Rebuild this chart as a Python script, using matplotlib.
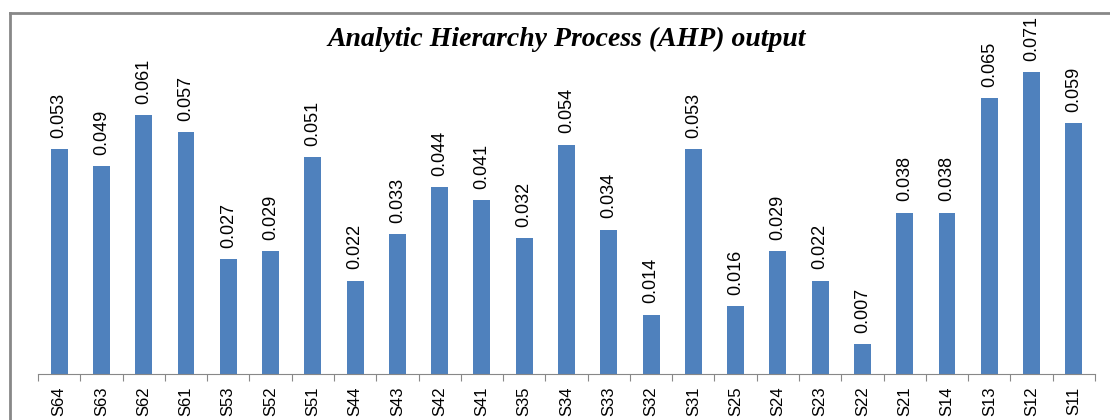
import matplotlib
matplotlib.use("Agg")
import matplotlib.pyplot as plt
from matplotlib.lines import Line2D

categories = ["S64", "S63", "S62", "S61", "S53", "S52", "S51", "S44", "S43", "S42",
              "S41", "S35", "S34", "S33", "S32", "S31", "S25", "S24", "S23", "S22",
              "S21", "S14", "S13", "S12", "S11"]
values = [0.053, 0.049, 0.061, 0.057, 0.027, 0.029, 0.051, 0.022, 0.033, 0.044,
          0.041, 0.032, 0.054, 0.034, 0.014, 0.053, 0.016, 0.029, 0.022, 0.007,
          0.038, 0.038, 0.065, 0.071, 0.059]
title = "Analytic Hierarchy Process (AHP) output"

W, H = 1110, 420
fig = plt.figure(figsize=(W / 100, H / 100), dpi=100)
fig.patch.set_facecolor("white")

font = ["Liberation Sans", "DejaVu Sans"]

ax = fig.add_axes([38 / W, (H - 374) / H, (1095 - 38) / W, (374 - 34) / H])
x = list(range(len(categories)))
ax.bar(x, values, width=0.4, color="#4F81BD", zorder=2)
ax.set_xlim(-0.5, len(categories) - 0.5)
ax.set_ylim(0, 0.08)

for xi, v in zip(x, values):
    ax.annotate(f"{v:.3f}", (xi, v), xytext=(0, 8), textcoords="offset points",
                rotation=90, ha="center", va="bottom", fontsize=13, family=font)

for s in ["top", "right", "left"]:
    ax.spines[s].set_visible(False)
ax.spines["bottom"].set_color("#888888")
ax.set_yticks([])
ax.set_xticks([i - 0.5 for i in range(len(categories) + 1)], minor=False)
ax.set_xticklabels([])
ax.tick_params(axis="x", which="major", length=5, color="#888888")
ax.set_xticks(x, minor=True)
ax.set_xticklabels(categories, minor=True, rotation=90, fontsize=12, family=font)
ax.tick_params(axis="x", which="minor", length=0, pad=9)

fig.text(567 / W, 1 - 39 / H, title, ha="center", va="center", fontsize=20,
         family=["Liberation Serif", "DejaVu Serif"], fontweight="bold", style="italic")

fig.add_artist(Line2D([10 / W, 10 / W], [-0.1, 1 - 13 / H], transform=fig.transFigure,
                      color="#888888", lw=2))
fig.add_artist(Line2D([10 / W, 1.1], [1 - 13 / H, 1 - 13 / H], transform=fig.transFigure,
                      color="#888888", lw=2))

fig.savefig("out.png", dpi=100)
